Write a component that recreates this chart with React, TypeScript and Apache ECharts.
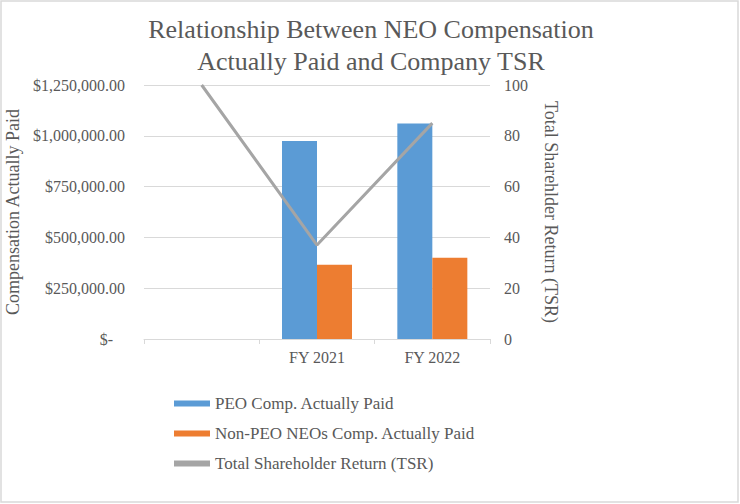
import React, { useEffect, useRef } from "react";
import * as echarts from "echarts";

const categories = ["", "FY 2021", "FY 2022"];
const peoComp = [null, 975000, 1060000];
const nonPeoComp = [null, 365000, 400000];
const tsr = [100, 37, 85];
const seriesNames = [
  "PEO Comp. Actually Paid",
  "Non-PEO NEOs Comp. Actually Paid",
  "Total Shareholder Return (TSR)",
];
const titleText = "Relationship Between NEO Compensation\nActually Paid and Company TSR";
const leftAxisName = "Compensation Actually Paid";
const rightAxisName = "Total Sharehlder Return (TSR)";

const FONT = "serif";
const TXT = "#595959";
const GRID = "#d9d9d9";

function fmtMoney(v: number): string {
  if (v === 0) return "$-   ";
  return "$" + v.toLocaleString("en-US", { minimumFractionDigits: 2, maximumFractionDigits: 2 });
}

export default function App() {
  const ref = useRef<HTMLDivElement>(null);
  useEffect(() => {
    if (!ref.current) return;
    const chart = echarts.init(ref.current, null, { renderer: "svg" });
    chart.setOption({
      animation: false,
      backgroundColor: "#ffffff",
      textStyle: { fontFamily: FONT },
      title: {
        text: titleText,
        left: 366,
        top: 8,
        textAlign: "center",
        textStyle: {
          fontFamily: FONT,
          fontSize: 26,
          fontWeight: "normal",
          color: TXT,
          lineHeight: 32,
        },
      },
      graphic: [
        {
          type: "rect",
          shape: { x: 1, y: 1, width: 737, height: 501 },
          style: { fill: "none", stroke: GRID, lineWidth: 1.5 },
          silent: true,
        },
      ],
      grid: { left: 144, right: 250, top: 85, bottom: 165, containLabel: false },
      legend: {
        orient: "vertical",
        left: 174,
        top: 395,
        padding: 0,
        itemWidth: 36,
        itemHeight: 6,
        itemGap: 13,
        textStyle: { fontFamily: FONT, fontSize: 17, color: TXT },
        data: [
          { name: seriesNames[0], icon: "rect" },
          { name: seriesNames[1], icon: "rect" },
          { name: seriesNames[2], icon: "rect", itemStyle: { color: "#a5a5a5" } },
        ],
      },
      xAxis: {
        type: "category",
        data: categories,
        axisLine: { lineStyle: { color: GRID, width: 1 } },
        axisTick: { show: true, length: 5, lineStyle: { color: GRID } },
        axisLabel: { fontFamily: FONT, fontSize: 16, color: TXT, margin: 10, interval: 0 },
      },
      yAxis: [
        {
          type: "value",
          min: 0,
          max: 1250000,
          interval: 250000,
          name: leftAxisName,
          nameLocation: "middle",
          nameRotate: 90,
          nameGap: 122,
          nameTextStyle: { fontFamily: FONT, fontSize: 18, color: TXT },
          axisLine: { show: false },
          axisTick: { show: false },
          splitLine: { lineStyle: { color: GRID, width: 1 } },
          axisLabel: {
            fontFamily: FONT,
            fontSize: 16,
            color: TXT,
            margin: 19,
            formatter: (v: number) => fmtMoney(v),
          },
        },
        {
          type: "value",
          min: 0,
          max: 100,
          interval: 20,
          name: rightAxisName,
          nameLocation: "middle",
          nameRotate: -90,
          nameGap: 52,
          nameTextStyle: { fontFamily: FONT, fontSize: 18, color: TXT },
          axisLine: { show: false },
          axisTick: { show: false },
          splitLine: { show: false },
          axisLabel: { fontFamily: FONT, fontSize: 16, color: TXT, margin: 14 },
        },
      ],
      series: [
        {
          name: seriesNames[0],
          type: "bar",
          data: peoComp,
          barWidth: 35,
          barGap: "0%",
          itemStyle: { color: "#5b9bd5" },
        },
        {
          name: seriesNames[1],
          type: "bar",
          data: nonPeoComp,
          barWidth: 35,
          barGap: "0%",
          itemStyle: { color: "#ed7d31" },
        },
        {
          name: seriesNames[2],
          type: "line",
          yAxisIndex: 1,
          data: tsr,
          symbol: "none",
          lineStyle: { color: "#a5a5a5", width: 3 },
          itemStyle: { color: "#a5a5a5" },
        },
      ],
    });
    return () => chart.dispose();
  }, []);
  return (
    <div
      ref={ref}
      style={{ position: "absolute", left: 0, top: 0, width: 740, height: 504 }}
    />
  );
}
